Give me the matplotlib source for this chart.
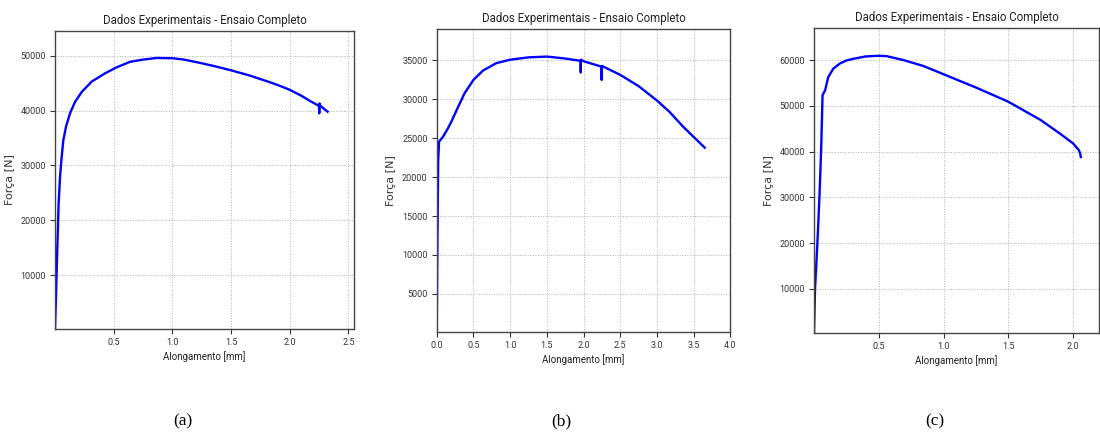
# 引張試験の荷重-伸び曲線（3試験片）
import matplotlib
matplotlib.use("Agg")
import matplotlib.pyplot as plt


# データ
x_a = [0.0, 0.0085, 0.02, 0.031, 0.043, 0.057, 0.071, 0.094, 0.128, 0.171, 0.228,
       0.313, 0.427, 0.526, 0.64, 0.75, 0.866, 1.0, 1.1, 1.236, 1.35, 1.5, 1.65,
       1.8, 1.9, 2.0, 2.1, 2.17, 2.25, 2.252, 2.254, 2.26, 2.323]
y_a = [170, 6100, 15200, 23100, 28000, 31600, 34600, 37100, 39500, 41600, 43400,
       45300, 46800, 47900, 48900, 49300, 49600, 49550, 49300, 48700, 48150, 47350, 46450,
       45400, 44650, 43800, 42700, 41800, 40850, 39500, 41300, 40900, 39800]

x_b = [0.0, 0.01, 0.02, 0.032, 0.086, 0.154, 0.2, 0.29, 0.38, 0.5, 0.63, 0.81,
       1.0, 1.25, 1.5, 1.75, 1.96, 1.962, 1.964, 2.0, 2.23, 2.245, 2.247, 2.25,
       2.5, 2.75, 3.0, 3.17, 3.355, 3.54, 3.65]
y_b = [160, 12000, 22000, 24570, 25200, 26300, 27150, 29000, 30800, 32500, 33700, 34650,
       35100, 35400, 35500, 35250, 34950, 33450, 35100, 34900, 34250, 34150, 32500, 34300,
       33150, 31700, 29850, 28400, 26500, 24800, 23800]

x_c = [0.0, 0.008, 0.026, 0.042, 0.055, 0.066, 0.086, 0.11, 0.15, 0.2, 0.25, 0.305,
       0.4, 0.5, 0.56, 0.69, 0.845, 1.0, 1.25, 1.5, 1.75, 1.9, 2.0, 2.045, 2.055, 2.06]
y_c = [360, 10000, 19900, 30100, 40300, 52300, 53400, 56300, 58150, 59250, 59900, 60280,
       60800, 60930, 60860, 60000, 58700, 56900, 54000, 50900, 46900, 43900, 41800, 40300,
       39600, 38800]

xt_a = [0.5, 1.0, 1.5, 2.0, 2.5]
yt_a = [10000, 20000, 30000, 40000, 50000]
xt_b = [0.0, 0.5, 1.0, 1.5, 2.0, 2.5, 3.0, 3.5, 4.0]
yt_b = [5000, 10000, 15000, 20000, 25000, 30000, 35000]
xt_c = [0.5, 1.0, 1.5, 2.0]
yt_c = [10000, 20000, 30000, 40000, 50000, 60000]

captions = ["(a)", "(b)", "(c)"]


# フォント
fnt = ["Roboto", "DejaVu Sans"]

fig = plt.figure(figsize=(11, 4.38), dpi=100)

# 各軸の位置 [left, bottom, width, height]
pos = [[0.050, 0.249, 0.272, 0.680],
       [0.397, 0.243, 0.267, 0.690],
       [0.740, 0.240, 0.259, 0.696]]
data = [(x_a, y_a, xt_a, yt_a, (0, 2.55), (170, 54500)),
        (x_b, y_b, xt_b, yt_b, (0, 4.0), (160, 39000)),
        (x_c, y_c, xt_c, yt_c, (0, 2.2), (360, 67000))]

for p, (xs, ys, xt, yt, xl, yl), cap in zip(pos, data, captions):
    ax = fig.add_axes(p)
    ax.plot(xs, ys, color="#0000ff", lw=1.7)
    ax.set_xlim(*xl)
    ax.set_ylim(*yl)
    ax.set_xticks(xt)
    ax.set_yticks(yt)
    ax.set_xticklabels([f"{v:.1f}" for v in xt], family=fnt, fontsize=6.5)
    ax.set_yticklabels([f"{v}" for v in yt], family=fnt, fontsize=6.5)
    ax.grid(True, ls=":", color="#b0b0b0", lw=0.7)
    ax.tick_params(length=3.5, width=0.8, colors="#333333", pad=3)
    for s in ax.spines.values():
        s.set_color("#444444")
        s.set_linewidth(1.0)
    ax.set_title("Dados Experimentais - Ensaio Completo", family=fnt,
                 fontsize=8.3, color="#222222", pad=5)
    ax.set_xlabel("Alongamento [mm]", family=fnt, fontsize=7, color="#222222", labelpad=3)
    ax.set_ylabel("Força [N]", family="DejaVu Sans", fontsize=8, color="#333333")
    # 図番号
    fig.text(p[0] + p[2] / 2 - 0.02, 0.039, cap, family="Liberation Serif",
             fontsize=12.5, ha="center", va="center")

fig.savefig("out.png", dpi=100)
